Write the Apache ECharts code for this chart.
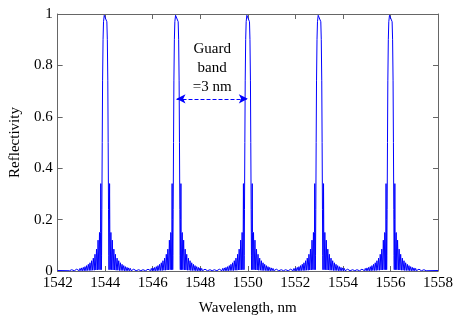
<!DOCTYPE html>
<html><head><meta charset="utf-8">
<script src="https://cdn.jsdelivr.net/npm/echarts@6/dist/echarts.min.js"></script>
<style>html,body{margin:0;padding:0;background:#fff}#c{width:456px;height:321px}</style>
</head><body><div id="c"></div>
<script>
// Peak centre wavelengths (nm)
const peakCenters = [1544, 1547, 1550, 1553, 1556];
// One-sided reflection profile of a single grating peak
const profileOffsets = [0.000,0.040,0.070,0.090,0.110,0.125,0.140,0.152,0.160,0.175,0.185,0.195,0.210,0.240,0.265,0.300,0.330,0.365,0.395,0.430,0.460,0.500,0.530,0.570,0.600,0.640,0.670,0.710,0.740,0.780,0.810,0.850,0.880,0.920,0.950,0.990,1.020,1.060,1.090,1.130,1.160,1.200,1.230,1.270,1.300,1.340,1.370,1.410,1.440,1.480,1.500];
const profileValues  = [1.000,0.995,0.970,0.900,0.740,0.500,0.240,0.060,0.005,0.200,0.340,0.150,0.005,0.150,0.005,0.120,0.004,0.085,0.004,0.065,0.003,0.050,0.003,0.040,0.002,0.032,0.002,0.026,0.002,0.021,0.001,0.017,0.001,0.014,0.001,0.012,0.001,0.010,0.001,0.008,0.001,0.007,0.001,0.006,0.001,0.005,0.001,0.005,0.001,0.004,0.001];
// Baseline points at the ends of the range
const edgeWavelengths = [1542, 1558];
const edgeValues = [0.002, 0.002];
// Axis ticks
const xTicks = [1542,1544,1546,1548,1550,1552,1554,1556,1558];
const yTicks = [0,0.2,0.4,0.6,0.8,1];
// Guard band annotation
const guardFrom = 1547, guardTo = 1550, guardLevel = 0.67;
const guardText = 'Guard\nband\n=3 nm';

const data = [[edgeWavelengths[0], edgeValues[0]]];
peakCenters.forEach(c => {
  for (let i = profileOffsets.length - 1; i > 0; i--) data.push([c - profileOffsets[i], profileValues[i]]);
  for (let i = 0; i < profileOffsets.length; i++) data.push([c + profileOffsets[i], profileValues[i]]);
});
data.push([edgeWavelengths[1], edgeValues[1]]);

const font = 'Liberation Serif, Times New Roman, serif';
const axCol = '#666';
const chart = echarts.init(document.getElementById('c'), null, {renderer:'canvas'});
const baseX = {type:'value', min:xTicks[0], max:xTicks[xTicks.length-1], interval:2,
  axisLine:{show:true, onZero:false, lineStyle:{color:axCol}}, axisTick:{inside:true, length:5, lineStyle:{color:axCol}},
  splitLine:{show:false}};
const baseY = {type:'value', min:yTicks[0], max:yTicks[yTicks.length-1], interval:0.2,
  axisLine:{show:true, onZero:false, lineStyle:{color:axCol}}, axisTick:{inside:true, length:5, lineStyle:{color:axCol}},
  splitLine:{show:false}};
chart.setOption({
  animation:false,
  grid:{left:55, right:18, top:14, bottom:38},
  xAxis:[
    Object.assign({}, baseX, {position:'bottom', name:'Wavelength, nm', nameLocation:'middle', nameGap:30,
      nameTextStyle:{fontFamily:font, fontSize:15, color:'#000'},
      axisLabel:{fontFamily:font, fontSize:15, color:'#000', margin:5, formatter:v => String(v)}}),
    Object.assign({}, baseX, {position:'top', axisLabel:{show:false}})
  ],
  yAxis:[
    Object.assign({}, baseY, {position:'left', name:'Reflectivity', nameLocation:'middle', nameGap:32, nameRotate:90,
      nameTextStyle:{fontFamily:font, fontSize:15, color:'#000'},
      axisLabel:{fontFamily:font, fontSize:15, color:'#000', margin:5}}),
    Object.assign({}, baseY, {position:'right', axisLabel:{show:false}})
  ],
  series:[{
    type:'line', data:data, showSymbol:false, symbol:'none', sampling:null,
    lineStyle:{color:'#0000ff', width:1}, clip:true,
    markLine:{
      silent:true, symbol:['arrow','arrow'], symbolSize:[7,9],
      lineStyle:{color:'#0000ff', type:'dashed', width:1},
      label:{show:true, position:'insideMiddleTop', formatter:guardText, fontFamily:font, fontSize:15,
        color:'#000', lineHeight:19, distance:2, align:'center'},
      data:[[{coord:[guardFrom, guardLevel]},{coord:[guardTo, guardLevel]}]]
    }
  }]
});
</script></body></html>
